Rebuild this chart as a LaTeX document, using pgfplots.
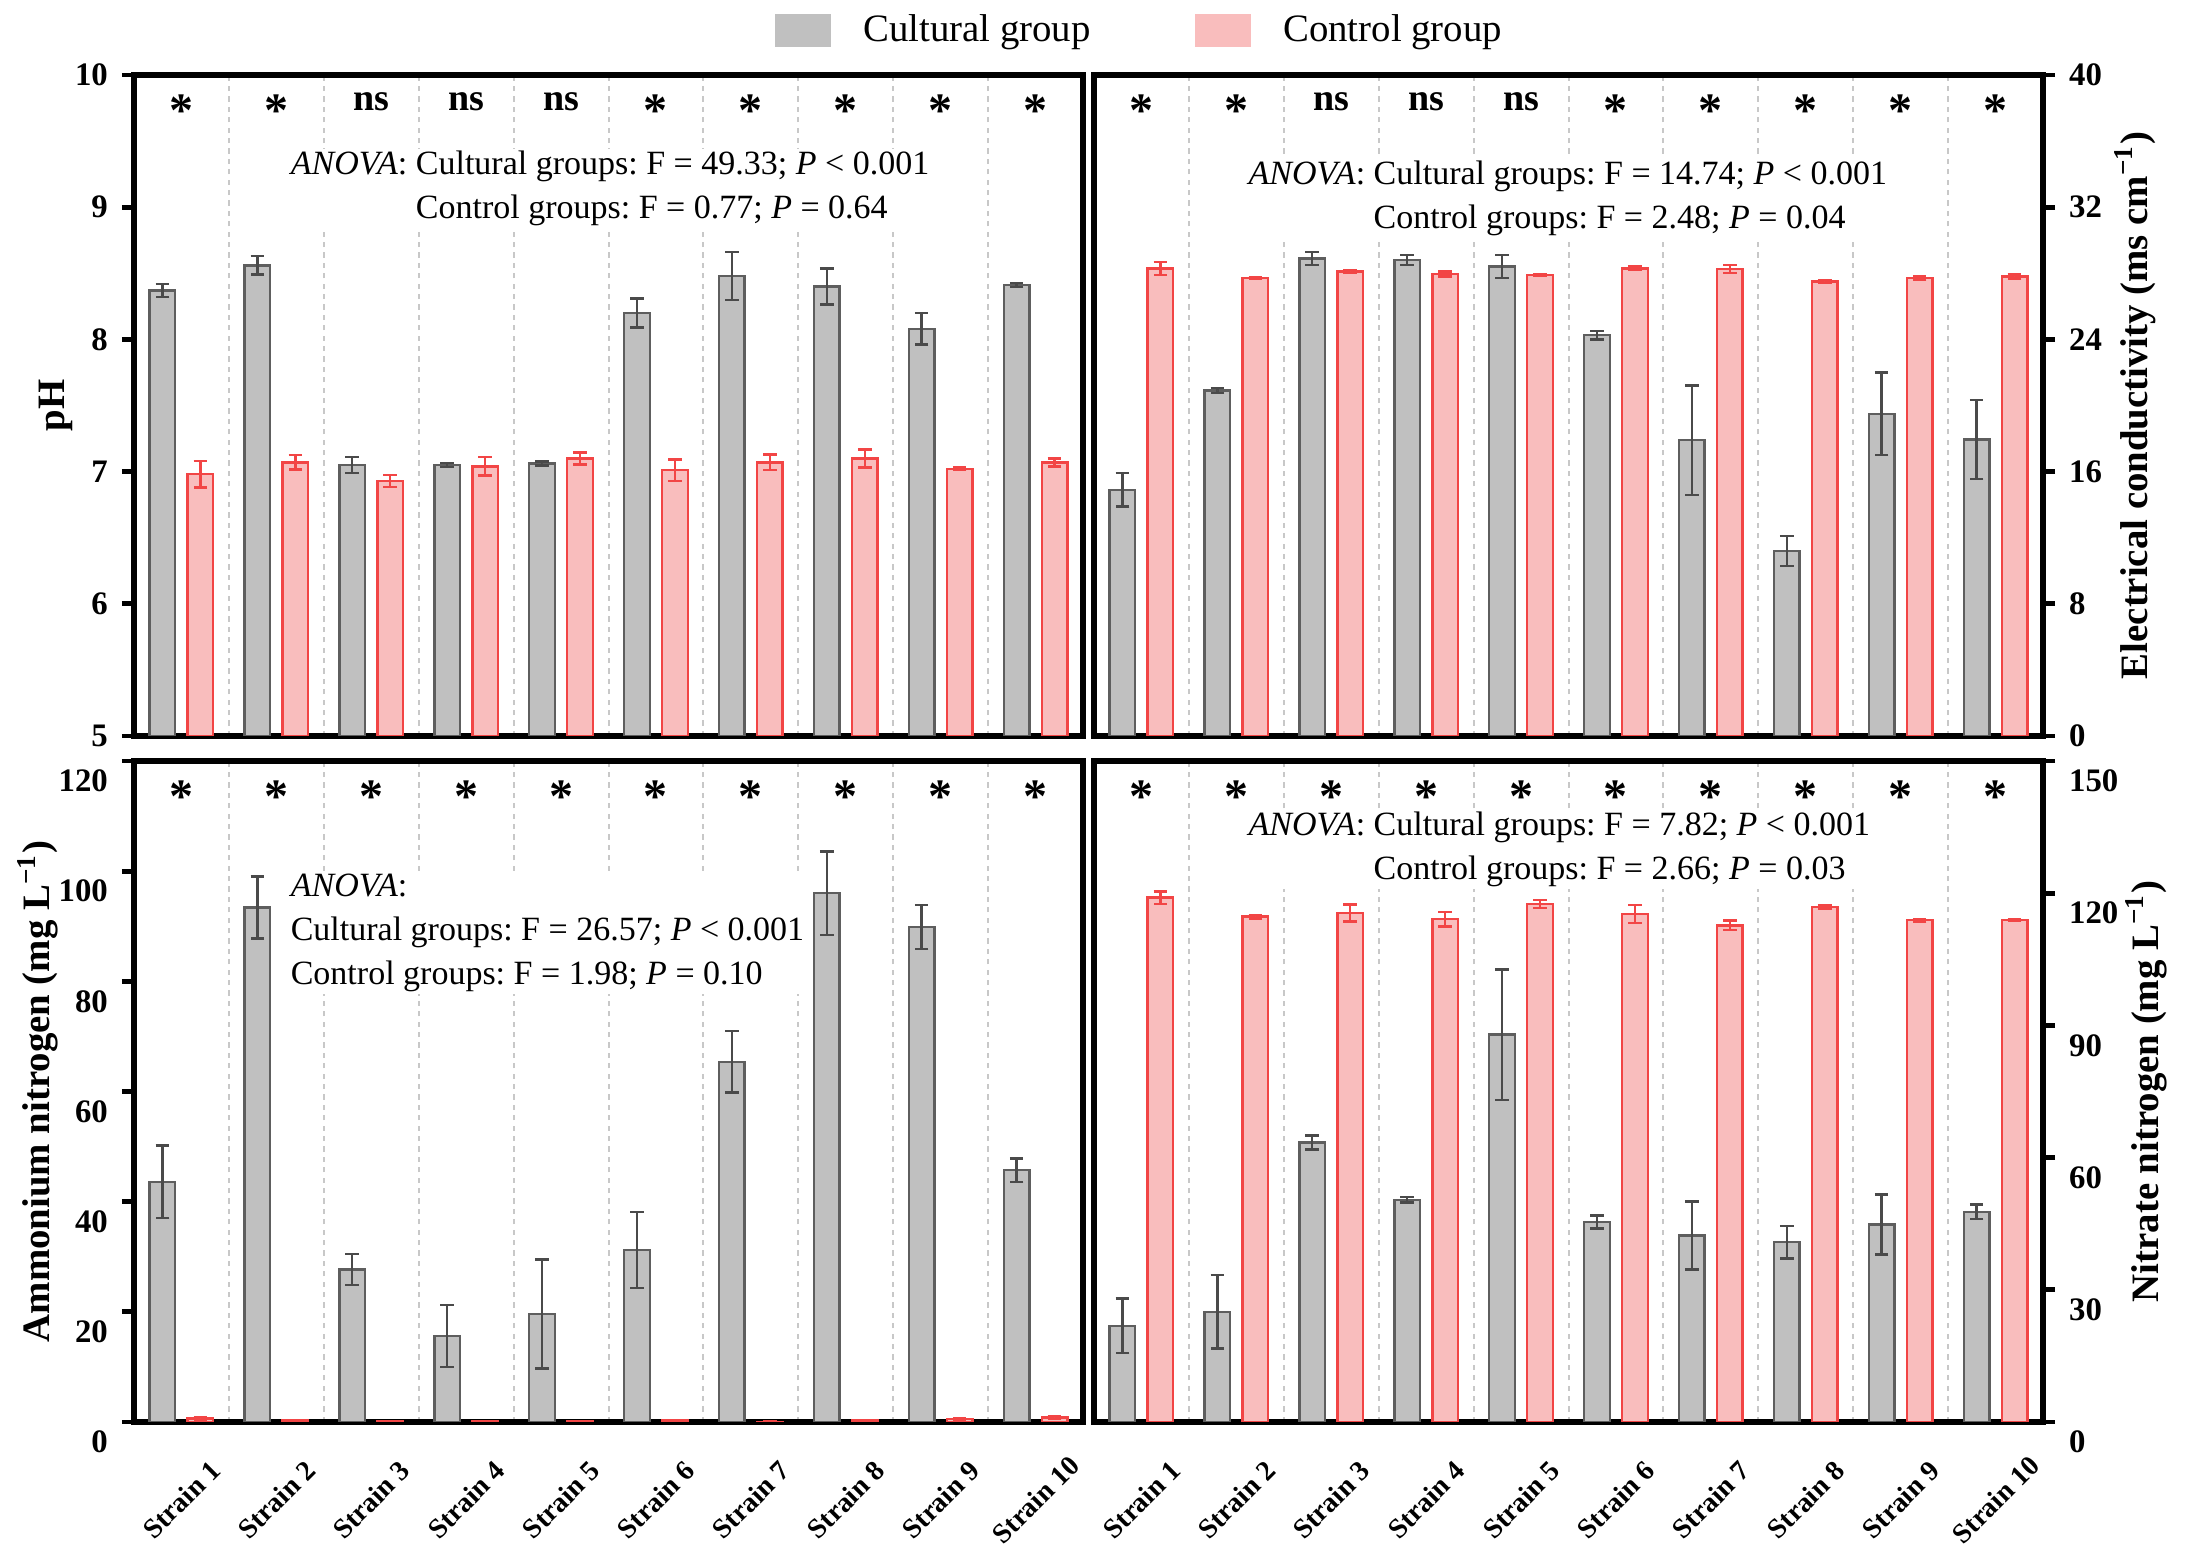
\documentclass[border=0pt]{standalone}
\usepackage{fontspec}
\setmainfont{Liberation Serif}
\usepackage{pgfplots}
\usepackage{pgfplotstable}
\pgfplotsset{compat=1.18}
\frenchspacing

\definecolor{cGrayFill}{HTML}{C0C0C0}
\definecolor{cGrayEdge}{HTML}{5E5E5E}
\definecolor{cGrayErr}{HTML}{4A4A4A}
\definecolor{cPinkFill}{HTML}{F9BDBD}
\definecolor{cPinkEdge}{HTML}{F24545}
\definecolor{cGrid}{HTML}{C8C8C8}

% s = strain, g/ge = cultural group mean/sd, c/ce = control group mean/sd
\pgfplotstableread{
s g ge c ce
1 8.37 0.05 6.98 0.10
2 8.56 0.07 7.07 0.055
3 7.05 0.06 6.93 0.045
4 7.05 0.015 7.04 0.07
5 7.06 0.015 7.10 0.045
6 8.20 0.11 7.01 0.08
7 8.48 0.18 7.07 0.06
8 8.40 0.135 7.10 0.068
9 8.08 0.12 7.02 0.01
10 8.41 0.015 7.07 0.03
}\phdata

\pgfplotstableread{
s g ge c ce
1 14.9 1.0 28.3 0.4
2 20.9 0.15 27.7 0.05
3 28.9 0.4 28.1 0.1
4 28.8 0.3 27.95 0.15
5 28.4 0.7 27.9 0.05
6 24.25 0.25 28.3 0.1
7 17.9 3.3 28.25 0.25
8 11.2 0.9 27.5 0.1
9 19.5 2.5 27.7 0.1
10 17.95 2.4 27.8 0.15
}\ecdata

\pgfplotstableread{
s g ge c ce
1 43.6 6.6 0.6 0.2
2 93.4 5.6 0.3 0.1
3 27.7 2.8 0.1 0.05
4 15.6 5.6 0.1 0.05
5 19.6 9.9 0.1 0.05
6 31.2 6.9 0.3 0.1
7 65.4 5.6 0.05 0.02
8 96.0 7.6 0.3 0.1
9 89.9 4.0 0.5 0.2
10 45.7 2.1 0.8 0.3
}\nhdata

\pgfplotstableread{
s g ge c ce
1 21.8 6.2 119.0 1.4
2 25.0 8.3 114.7 0.4
3 63.4 1.6 115.5 1.9
4 50.4 0.6 114.1 1.7
5 87.9 14.8 117.6 0.9
6 45.4 1.5 115.3 2.0
7 42.3 7.7 112.7 1.1
8 40.8 3.7 116.9 0.4
9 44.8 6.8 113.9 0.3
10 47.7 1.7 113.9 0.1
}\nodata

\pgfplotsset{
  panel/.style={
    scale only axis, width=237.25pt, height=165.25pt,
    anchor=south west,
    xmin=0.5, xmax=10.5, xtick={1,...,10},
    minor xtick={1.5,2.5,...,9.5},
    xminorgrids,
    minor grid style={cGrid, line width=0.5pt, dash pattern=on 1.3pt off 1.3pt},
    minor tick length=0pt,
    xtick style={draw=none},
    axis line style={line width=1.3pt},
    tick align=outside, major tick length=3pt,
    ytick style={line width=1.2pt, black},
    /pgf/number format/assume math mode=true,
    yticklabel style={font=\fontsize{8.2}{9}\selectfont\bfseries},
    ylabel style={font=\fontsize{9.7}{11}\selectfont\bfseries, anchor=center},
  },
  toppanel/.style={panel, xticklabels={}},
  botpanel/.style={panel,
    xticklabels={Strain 1,Strain 2,Strain 3,Strain 4,Strain 5,Strain 6,Strain 7,Strain 8,Strain 9,Strain 10},
    xticklabel style={yshift=-16.5pt, rotate=45, anchor=center, font=\fontsize{7}{8}\selectfont\bfseries},
    yticklabel style={yshift=-5pt},
  },
  gbar/.style={ybar, bar width=0.27, bar shift=0pt, fill=cGrayFill, draw=cGrayEdge, line width=0.6pt,
    error bars/.cd, y dir=both, y explicit,
    error bar style={line width=0.6pt, draw=cGrayErr},
    error mark options={rotate=90, mark size=1.7pt, line width=0.6pt, draw=cGrayErr}},
  cbar/.style={ybar, bar width=0.27, bar shift=0pt, fill=cPinkFill, draw=cPinkEdge, line width=0.6pt,
    error bars/.cd, y dir=both, y explicit,
    error bar style={line width=0.6pt, draw=cPinkEdge},
    error mark options={rotate=90, mark size=1.7pt, line width=0.6pt, draw=cPinkEdge}},
}

\newcommand\sigstar[1]{\node[anchor=base, inner sep=0pt, font=\fontsize{12}{12}\selectfont\bfseries] at ({axis cs:#1,0}|-{rel axis cs:0,0.9225}) {*};}
\newcommand\signs[1]{\node[anchor=base, inner sep=0pt, font=\fontsize{9.5}{10}\selectfont\bfseries] at ({axis cs:#1,0}|-{rel axis cs:0,0.9463}) {ns};}
\newcommand\anova{\textit{ANOVA}}

\begin{document}
\begin{tikzpicture}
\useasboundingbox (0,0) rectangle (547pt,386pt);

% pH
\begin{axis}[toppanel, at={(33.5pt,202pt)},
  ymin=5, ymax=10, ytick={5,...,10}, ytick pos=left,
  ylabel={pH}, ylabel style={at={(axis description cs:-0.0822,0.5)}},
  legend columns=2,
  legend style={at={(1.0626,1.067)}, anchor=center, draw=none, fill=none,
    font=\fontsize{9.7}{11}\selectfont,
    /tikz/every odd column/.append style={column sep=6pt},
    /tikz/every even column/.append style={column sep=24pt}},
]
\addlegendimage{legend image code/.code={\fill[cGrayFill] (0pt,-3.9pt) rectangle (13.75pt,3.9pt);}}
\addlegendentry{Cultural group}
\addlegendimage{legend image code/.code={\fill[cPinkFill] (0pt,-3.9pt) rectangle (13.75pt,3.9pt);}}
\addlegendentry{Control group}
\addplot[gbar] table[x expr=\thisrow{s}-0.2, y=g, y error=ge] {\phdata};
\addplot[cbar] table[x expr=\thisrow{s}+0.2, y=c, y error=ce] {\phdata};
\sigstar{1}\sigstar{2}\signs{3}\signs{4}\signs{5}
\sigstar{6}\sigstar{7}\sigstar{8}\sigstar{9}\sigstar{10}
\node[anchor=north west, align=left, fill=white, inner sep=0.5pt, font=\fontsize{8.5}{11}\selectfont]
  at (rel axis cs:0.1623,0.8896)
  {\anova: Cultural groups: F = 49.33; \textit{P} < 0.001\\
   \phantom{\anova: }Control groups: F = 0.77; \textit{P} = 0.64};
\end{axis}

% EC
\begin{axis}[toppanel, at={(273.5pt,202pt)},
  ymin=0, ymax=40, ytick={0,8,...,40}, ytick pos=right, yticklabel pos=right,
  ylabel={Electrical conductivity (ms cm\textsuperscript{−1})},
  ylabel style={at={(axis description cs:1.097,0.5)}},
]
\addplot[gbar] table[x expr=\thisrow{s}-0.2, y=g, y error=ge] {\ecdata};
\addplot[cbar] table[x expr=\thisrow{s}+0.2, y=c, y error=ce] {\ecdata};
\sigstar{1}\sigstar{2}\signs{3}\signs{4}\signs{5}
\sigstar{6}\sigstar{7}\sigstar{8}\sigstar{9}\sigstar{10}
\node[anchor=north west, align=left, fill=white, inner sep=0.5pt, font=\fontsize{8.5}{11}\selectfont]
  at (rel axis cs:0.160,0.8744)
  {\anova: Cultural groups: F = 14.74; \textit{P} < 0.001\\
   \phantom{\anova: }Control groups: F = 2.48; \textit{P} = 0.04};
\end{axis}

% Ammonium nitrogen
\begin{axis}[botpanel, at={(33.5pt,30.5pt)},
  ymin=0, ymax=120, ytick={0,20,...,120}, ytick pos=left,
  ylabel={Ammonium nitrogen (mg L\textsuperscript{−1})},
  ylabel style={at={(axis description cs:-0.1012,0.5)}},
]
\addplot[gbar] table[x expr=\thisrow{s}-0.2, y=g, y error=ge] {\nhdata};
\addplot[cbar] table[x expr=\thisrow{s}+0.2, y=c, y error=ce] {\nhdata};
\sigstar{1}\sigstar{2}\sigstar{3}\sigstar{4}\sigstar{5}
\sigstar{6}\sigstar{7}\sigstar{8}\sigstar{9}\sigstar{10}
\node[anchor=north west, align=left, fill=white, inner sep=0.5pt, font=\fontsize{8.5}{11}\selectfont]
  at (rel axis cs:0.1623,0.8336)
  {\anova:\\
   Cultural groups: F = 26.57; \textit{P} < 0.001\\
   Control groups: F = 1.98; \textit{P} = 0.10};
\end{axis}

% Nitrate nitrogen
\begin{axis}[botpanel, at={(273.5pt,30.5pt)},
  ymin=0, ymax=150, ytick={0,30,...,150}, ytick pos=right, yticklabel pos=right,
  ylabel={Nitrate nitrogen (mg L\textsuperscript{−1})},
  ylabel style={at={(axis description cs:1.1086,0.5)}},
]
\addplot[gbar] table[x expr=\thisrow{s}-0.2, y=g, y error=ge] {\nodata};
\addplot[cbar] table[x expr=\thisrow{s}+0.2, y=c, y error=ce] {\nodata};
\sigstar{1}\sigstar{2}\sigstar{3}\sigstar{4}\sigstar{5}
\sigstar{6}\sigstar{7}\sigstar{8}\sigstar{9}\sigstar{10}
\node[anchor=north west, align=left, fill=white, inner sep=0.5pt, font=\fontsize{8.5}{11}\selectfont]
  at (rel axis cs:0.160,0.9274)
  {\anova: Cultural groups: F = 7.82; \textit{P} < 0.001\\
   \phantom{\anova: }Control groups: F = 2.66; \textit{P} = 0.03};
\end{axis}
\end{tikzpicture}
\end{document}
